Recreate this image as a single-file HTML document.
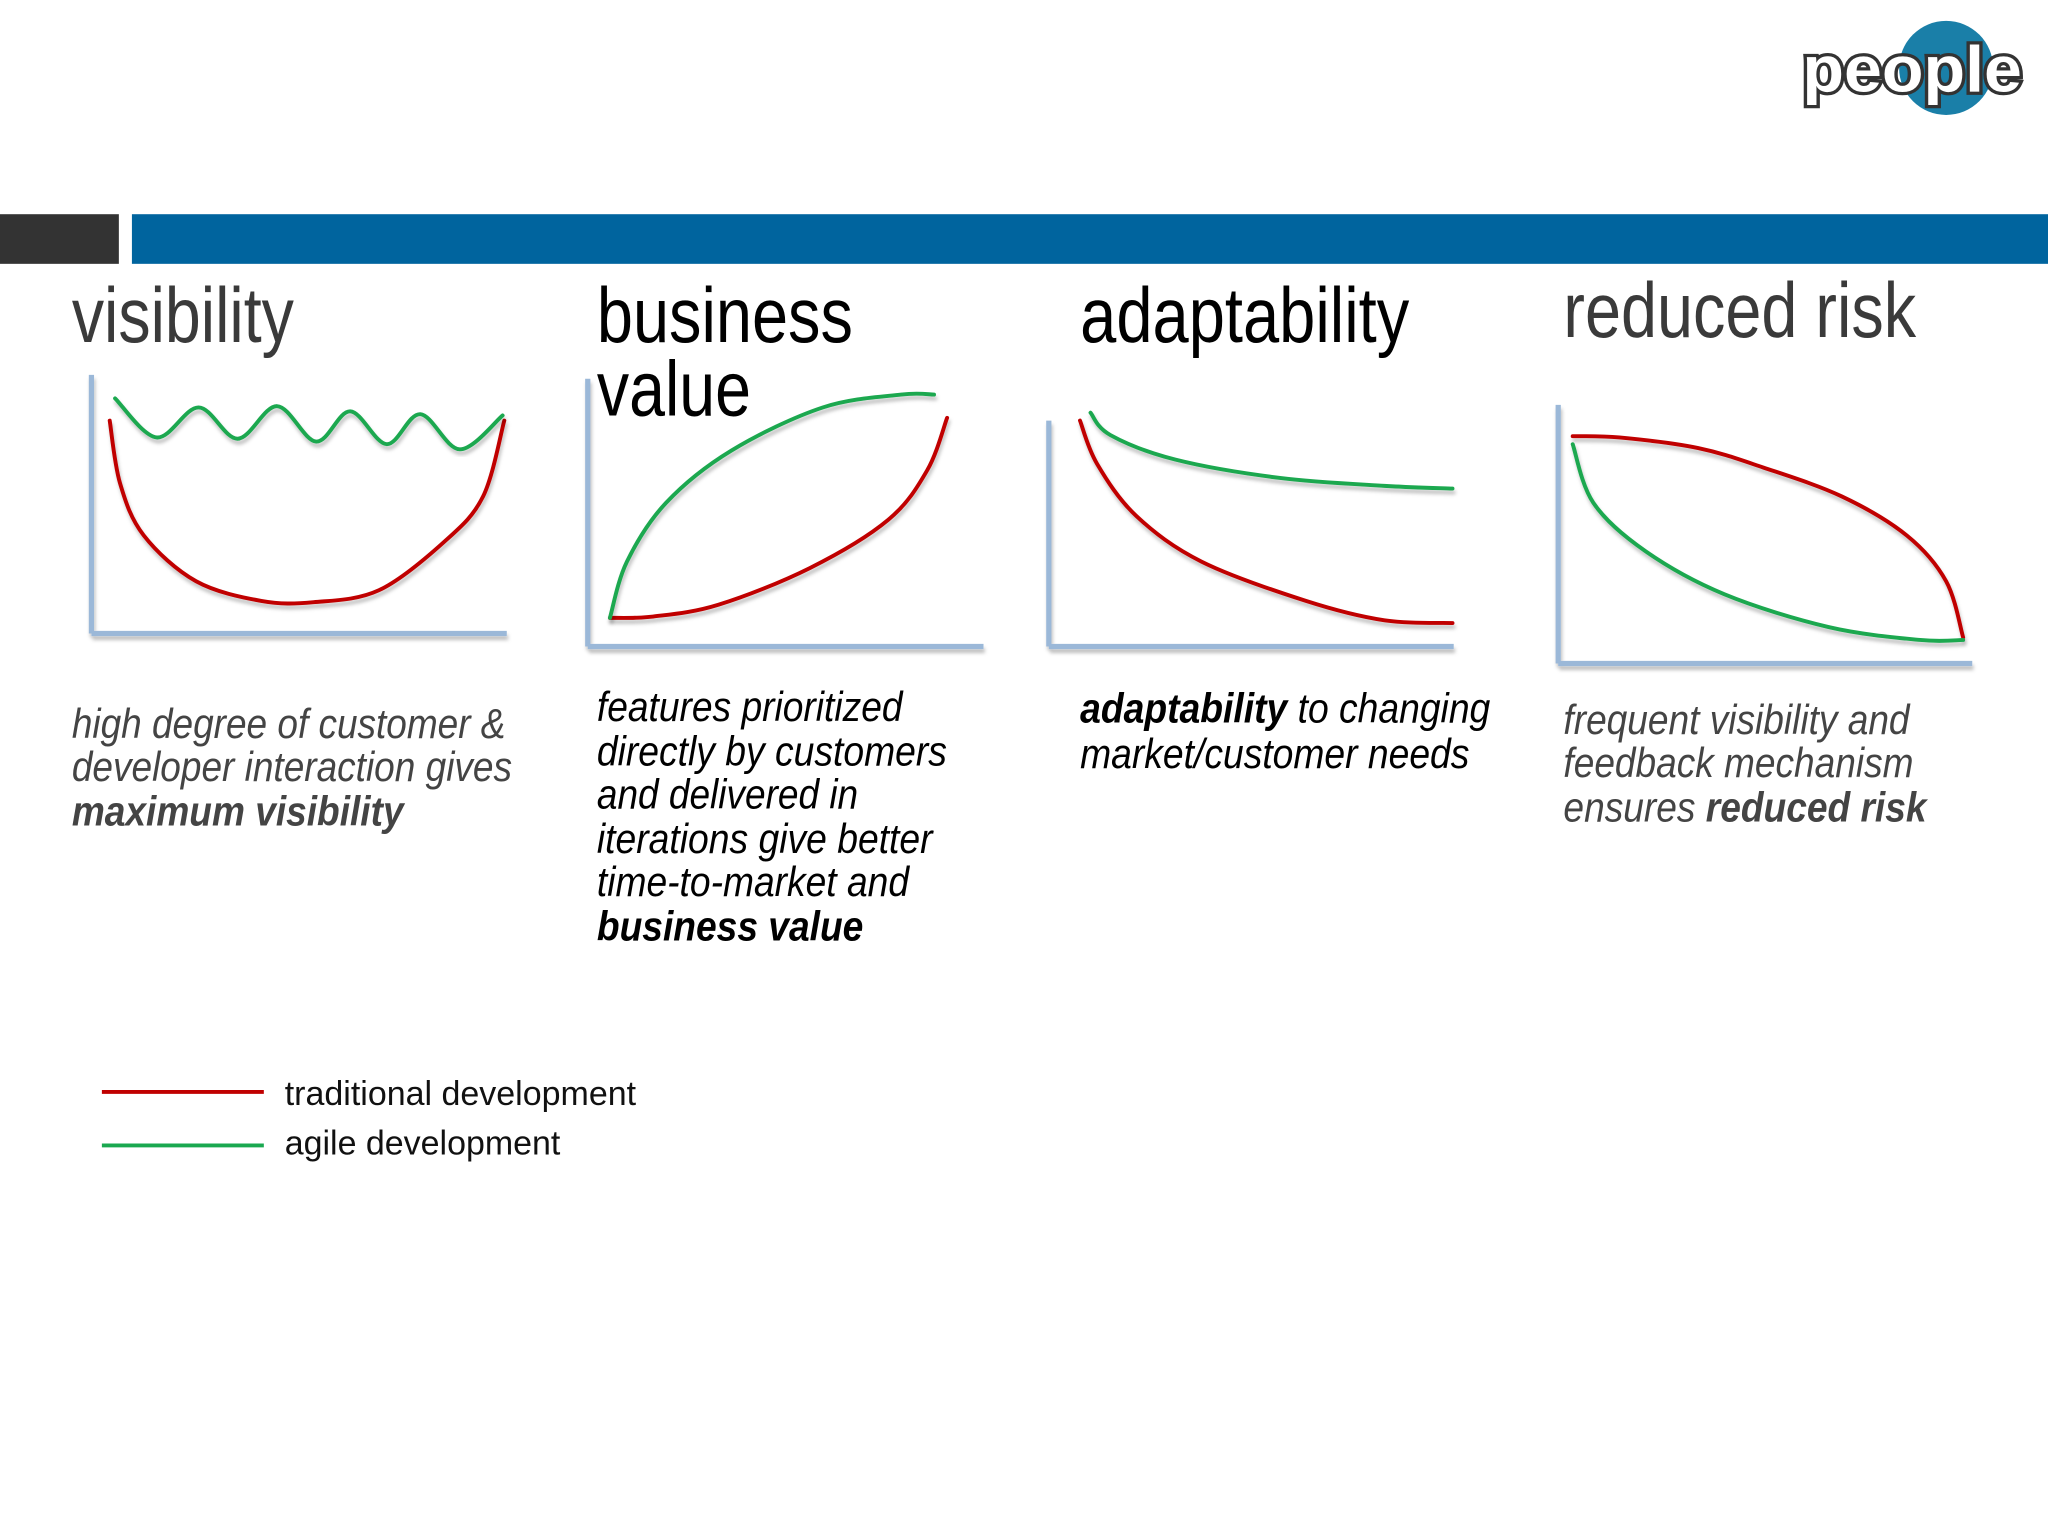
<!DOCTYPE html>
<html><head><meta charset="utf-8"><style>
html,body{margin:0;padding:0;background:#fff;}
svg{display:block;}
text{font-family:"Liberation Sans Narrow","Liberation Sans",sans-serif;}
</style></head><body>
<svg id="s" width="2048" height="1536" viewBox="0 0 1568 1176">
<defs>
<filter id="sh" x="-5%" y="-5%" width="110%" height="120%"><feDropShadow dx="1" dy="3" stdDeviation="1.5" flood-color="#000" flood-opacity="0.25"/></filter>
</defs>
<rect width="1568" height="1176" fill="#fff"/>
<g>
<circle cx="1490" cy="52" r="36" fill="#1a7fa8"/>
<text x="1380" y="70" font-family="Liberation Sans" font-weight="bold" font-size="50" fill="#fff" stroke="#333" stroke-width="5" paint-order="stroke" textLength="168" lengthAdjust="spacingAndGlyphs">people</text>
</g>
<rect x="0" y="164" width="91" height="38" fill="#333"/>
<rect x="101" y="164" width="1467" height="38" fill="#00649e"/>

<g>
<text x="55" y="262" font-size="60" fill="#3a3a3a" textLength="170" lengthAdjust="spacingAndGlyphs">visibility</text>
<text x="457" y="262" font-size="60" fill="#000" textLength="196" lengthAdjust="spacingAndGlyphs">business</text>
<text x="457" y="318" font-size="60" fill="#000" textLength="118" lengthAdjust="spacingAndGlyphs">value</text>
<text x="827" y="262" font-size="60" fill="#000" textLength="252" lengthAdjust="spacingAndGlyphs">adaptability</text>
<text x="1197" y="258" font-size="60" fill="#3a3a3a" textLength="270" lengthAdjust="spacingAndGlyphs">reduced risk</text>
</g>

<g font-size="32" font-style="italic">
<g fill="#444">
<text x="55" y="565" textLength="332" lengthAdjust="spacingAndGlyphs">high degree of customer &amp;</text>
<text x="55" y="598" textLength="337" lengthAdjust="spacingAndGlyphs">developer interaction gives</text>
<text x="55" y="632" font-weight="bold" textLength="254" lengthAdjust="spacingAndGlyphs">maximum visibility</text>
</g>
<g fill="#000">
<text x="457" y="552" textLength="234" lengthAdjust="spacingAndGlyphs">features prioritized</text>
<text x="457" y="586" textLength="268" lengthAdjust="spacingAndGlyphs">directly by customers</text>
<text x="457" y="619" textLength="200" lengthAdjust="spacingAndGlyphs">and delivered in</text>
<text x="457" y="653" textLength="257" lengthAdjust="spacingAndGlyphs">iterations give better</text>
<text x="457" y="686" textLength="239" lengthAdjust="spacingAndGlyphs">time-to-market and</text>
<text x="457" y="720" font-weight="bold" textLength="204" lengthAdjust="spacingAndGlyphs">business value</text>
</g>
<g fill="#000">
<text x="827" y="553" textLength="314" lengthAdjust="spacingAndGlyphs"><tspan font-weight="bold">adaptability</tspan> to changing</text>
<text x="827" y="588" textLength="298" lengthAdjust="spacingAndGlyphs">market/customer needs</text>
</g>
<g fill="#444">
<text x="1197" y="562" textLength="265" lengthAdjust="spacingAndGlyphs">frequent visibility and</text>
<text x="1197" y="595" textLength="268" lengthAdjust="spacingAndGlyphs">feedback mechanism</text>
<text x="1197" y="629" textLength="278" lengthAdjust="spacingAndGlyphs">ensures <tspan font-weight="bold">reduced risk</tspan></text>
</g>
</g>

<g>
<line x1="78" y1="836" x2="202" y2="836" stroke="#c00000" stroke-width="3"/>
<text x="218" y="846" font-family="Liberation Sans" font-size="26" fill="#111" textLength="269" lengthAdjust="spacingAndGlyphs">traditional development</text>
<line x1="78" y1="877" x2="202" y2="877" stroke="#1aa850" stroke-width="3"/>
<text x="218" y="884" font-family="Liberation Sans" font-size="26" fill="#111" textLength="211" lengthAdjust="spacingAndGlyphs">agile development</text>
</g>
<g id="charts"></g>
</svg>
<script>
// data in 0-100 units per chart
const visGreenX=[5.7,15.7,25.8,35.2,44.7,54.1,62.3,71.1,79.2,88.7,99];
const visGreenY=[90.9,75.8,87.4,75.3,87.9,74.2,85.9,73.2,84.8,71.2,84.3];
const visRedX=[4.4,6.9,12.6,25.2,40.9,53.5,69.2,84.9,94.3,99.4];
const visRedY=[82.3,58,37.9,20.2,12.6,12.1,16.7,35.4,53,82.3];
const bvGreenX=[5.6,9.9,19.8,36.3,59.4,79.2,87.5];
const bvGreenY=[10.7,31.7,53.7,73.2,89.3,94.1,94.1];
const bvRedX=[5.6,16.5,33,56.1,75.9,85.8,90.8];
const bvRedY=[10.7,11.2,15.6,29.3,47.3,65.9,85.4];
const adGreenX=[10.3,15.2,31.3,57.1,82.9,99.7];
const adGreenY=[103.5,93.6,82.7,74.6,71.1,69.9];
const adRedX=[7.7,11.9,21.6,37.7,63.5,82.9,99.7];
const adRedY=[100,80.9,57.8,37.6,20.2,11.6,10.4];
const rrRedX=[3.5,14.8,33.8,49.5,68.5,84.2,93.7,97.8];
const rrRedY=[87.9,87.4,83.3,75.8,64.6,49.5,31.8,10.1];
const rrGreenX=[3.5,8.5,21.1,40.1,65.3,87.4,97.8];
const rrGreenY=[84.8,62.1,43.4,26.8,14.1,9.1,9.1];

const NS='http://www.w3.org/2000/svg';
const root=document.getElementById('charts');
const charts=[
 {name:'visibility',x0:70,w:318,y0:485,h:198,series:[['traditional',visRedX,visRedY],['agile',visGreenX,visGreenY]]},
 {name:'business-value',x0:450,w:303,y0:495,h:205,series:[['traditional',bvRedX,bvRedY],['agile',bvGreenX,bvGreenY]]},
 {name:'adaptability',x0:803,w:310,y0:495,h:173,series:[['traditional',adRedX,adRedY],['agile',adGreenX,adGreenY]]},
 {name:'reduced-risk',x0:1193,w:317,y0:508,h:198,series:[['traditional',rrRedX,rrRedY],['agile',rrGreenX,rrGreenY]]}
];
function smooth(p){
 let d='M'+p[0][0]+','+p[0][1];
 for(let i=0;i<p.length-1;i++){
  const a=p[Math.max(0,i-1)],b=p[i],c=p[i+1],e=p[Math.min(p.length-1,i+2)];
  const c1=[b[0]+(c[0]-a[0])/6,b[1]+(c[1]-a[1])/6];
  const c2=[c[0]-(e[0]-b[0])/6,c[1]-(e[1]-b[1])/6];
  d+=' C'+c1[0]+','+c1[1]+' '+c2[0]+','+c2[1]+' '+c[0]+','+c[1];
 }
 return d;
}
charts.forEach(ch=>{
 const g=document.createElementNS(NS,'g');
 
 
 const sx=v=>ch.x0+v/100*ch.w, sy=v=>ch.y0-v/100*ch.h;
 const ax=document.createElementNS(NS,'path');
 ax.setAttribute('d','M'+sx(0)+','+sy(0)+' V'+(sy(0)-ch.h)+' M'+sx(0)+','+sy(0)+' H'+sx(100));
 ax.setAttribute('stroke','#9bb8d8');ax.setAttribute('stroke-width','4');ax.setAttribute('fill','none');
 ax.setAttribute('filter','url(#sh)');
 
 
 g.appendChild(ax);
 ch.series.forEach(s=>{
  const pts=s[1].map((x,i)=>[sx(x),sy(s[2][i])]);
  const p=document.createElementNS(NS,'path');
  p.setAttribute('d',smooth(pts));
  p.setAttribute('fill','none');
  p.setAttribute('stroke',s[0]==='agile'?'#1aa850':'#c00000');
  p.setAttribute('stroke-width','3');
  p.setAttribute('stroke-linecap','round');
  p.setAttribute('filter','url(#sh)');
  
  
  g.appendChild(p);
 });
 root.appendChild(g);
});
</script>
</body></html>
